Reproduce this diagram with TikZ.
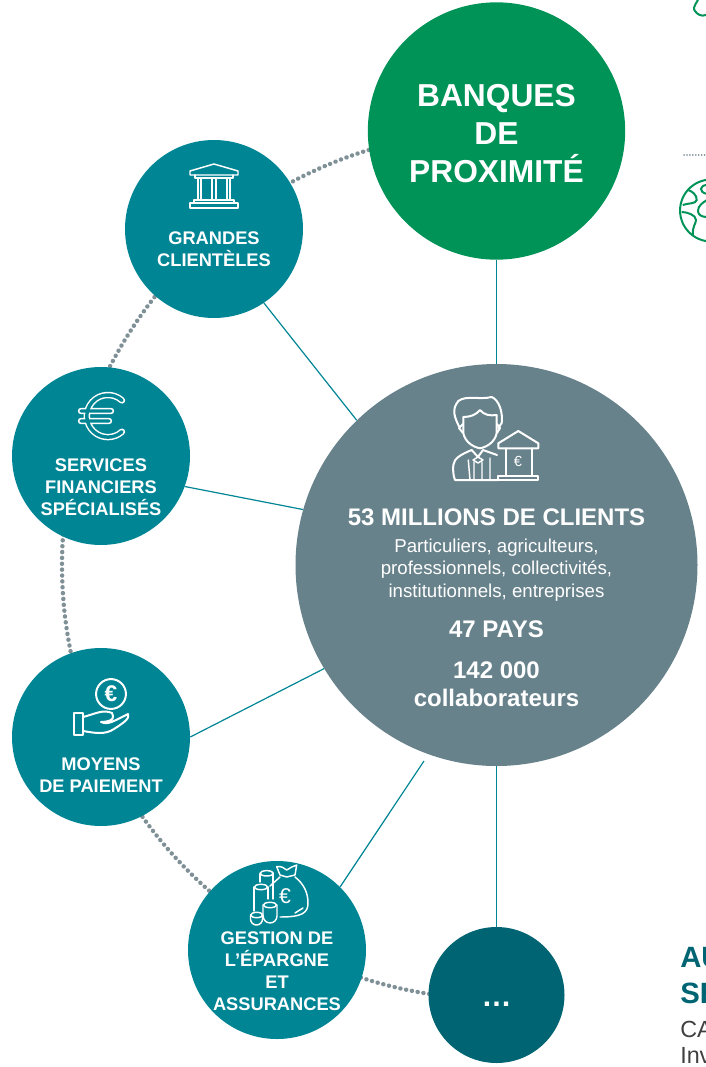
\documentclass[tikz,border=0pt]{standalone}
\usepackage{fontspec}
\usepackage{xcolor}
\setmainfont{Liberation Sans}
\definecolor{tealbank}{HTML}{008595}
\definecolor{greenbank}{HTML}{009357}
\definecolor{greyclient}{HTML}{68828B}
\definecolor{darkteal}{HTML}{006472}
\definecolor{greydots}{HTML}{7F9097}
\tikzset{
	bubble/.style={circle,inner sep=0pt,fill=tealbank,minimum size=133.5pt},
	label/.style={align=center,text=white,font=\fontsize{13.7}{16.5}\selectfont\bfseries},
	link/.style={draw=tealbank,line width=0.9pt},
	icon/.style={draw=white,line width=1.5pt,line join=round,line cap=round},
	iconthin/.style={icon,line width=1.1pt},
	globe/.style={greenbank,line width=1.5pt},
	cuttext/.style={anchor=base west,inner sep=0pt}
}
\begin{document}
\begin{tikzpicture}[x=0.75pt,y=-0.75pt]
	\useasboundingbox (0,0) rectangle (706,1067);
	\clip (0,0) rectangle (706,1067);
	% dotted ring behind the bubbles
	\draw[greydots,line width=3.3pt,line cap=round,dash pattern=on 0.1pt off 4.3pt] (496,131) arc[start angle=90,end angle=270,radius=325.5pt];
	% bubbles
	\node[bubble,fill=greenbank,minimum size=193pt] (proximite) at (496.5,131) {};
	\node[bubble] (grandes) at (214,229) {};
	\node[bubble] (services) at (101,456) {};
	\node[bubble] (moyens) at (101,737) {};
	\node[bubble] (gestion) at (277,950) {};
	\node[bubble,fill=darkteal,minimum size=102pt] (autres) at (496.5,995) {};
	\node[bubble,fill=greyclient,minimum size=301.5pt] (clients) at (496.5,565) {};
	\coordinate (gestionend) at (424,761);
	% links
	\draw[link] (proximite) -- (clients);
	\draw[link] (grandes.-56.5) -- (clients.134.8);
	\draw[link] (services.-20.6) -- (clients.164.4);
	\draw[link] (moyens.-0.6) -- (clients.211);
	\draw[link] (gestion.45) -- (gestionend);
	\draw[link] (clients) -- (autres);
	% labels
	\node[label,font=\fontsize{23.8}{28.5}\selectfont\bfseries] (proximitetxt) at (496.5,134) {BANQUES\\DE\\PROXIMITÉ};
	\node[label] (grandestxt) at (214,249) {GRANDES\\CLIENTÈLES};
	\node[label] (servicestxt) at (101,487) {SERVICES\\FINANCIERS\\SPÉCIALISÉS};
	\node[label] (moyenstxt) at (101,775) {MOYENS\\DE PAIEMENT};
	\node[label] (gestiontxt) at (277,971) {GESTION DE\\L’ÉPARGNE\\ET\\ASSURANCES};
	\node[label,anchor=base,inner sep=0pt,font=\fontsize{22.5}{24}\selectfont\bfseries] (autrestxt) at (496.5,1006) {…};
	\node[label,font=\fontsize{18}{21}\selectfont\bfseries] (clientstxt) at (496.5,517) {53 MILLIONS DE CLIENTS};
	\node[label,font=\fontsize{14}{16.9}\selectfont] (detailtxt) at (496.5,570) {Particuliers, agriculteurs,\\professionnels, collectivités,\\institutionnels, entreprises};
	\node[label,font=\fontsize{18}{21}\selectfont\bfseries] (paystxt) at (496.5,629) {47 PAYS};
	\node[label,font=\fontsize{18}{21}\selectfont\bfseries] (collabtxt) at (496.5,684) {142 000\\collaborateurs};
	% bank
	\draw[iconthin] (190,171) -- (214,164) -- (238,171) -- (238,175) -- (190,175) -- cycle;
	\draw[iconthin] (195,175) -- (195,178) -- (233,178) -- (233,175);
	\draw[iconthin] (198,178) -- (198,200) (201,178) -- (201,200) (212,178) -- (212,200) (216,178) -- (216,200) (227,178) -- (227,200) (230,178) -- (230,200);
	\draw[iconthin] (194,203) -- (194,200) -- (234,200) -- (234,203);
	\draw[iconthin] (190,203) rectangle (238,208);
	% euro
	\draw[white,line width=1.1pt,double=tealbank,double distance=2.6pt,line cap=round] (122,400.4) arc[start angle=48,end angle=312,radius=15.8pt] (81,411) -- (111,411) (81,421) -- (109,421);
	% hand and coin
	\draw[icon] (111,694) circle (11.2pt);
	\node[label,font=\fontsize{17}{17}\selectfont\bfseries] (coin) at (111,694) {€};
	\draw[icon] (74,713) rectangle (83,735);
	\draw[icon] (83,717) .. controls (95,714) and (103,709) .. (112,713) -- (113,716) .. controls (114,720) and (108,722) .. (101,722) .. controls (108,725) and (112,722) .. (128,714) .. controls (130,718) and (125,722) .. (114,729) .. controls (105,735) and (95,733) .. (83,731);
	% bag and coins
	\draw[iconthin] (266.7,873.3) ellipse (5pt and 2pt);
	\draw[iconthin] (260,874) -- (260,882) (273,874) -- (273,899);
	\draw[iconthin] (261,887) ellipse (5pt and 2pt);
	\draw[iconthin] (254,887) -- (254,911) (268,887) -- (268,899);
	\draw[iconthin] (270,905) ellipse (5pt and 2pt);
	\draw[iconthin] (263,905) -- (263,916) (277,905) -- (277,916) arc[start angle=0,end angle=-180,radius=5.2pt];
	\draw[iconthin] (256.7,915) ellipse (4.5pt and 2pt);
	\draw[iconthin] (250.5,915) -- (250.5,919) arc[start angle=180,end angle=360,radius=4.5pt] -- (263,915);
	\draw[iconthin] (276.7,866.7) .. controls (282,866) and (284,868) .. (286.7,870) .. controls (290,868) and (293,866) .. (296.7,865) -- (295,875) -- (286.7,877) -- (280,875) -- cycle;
	\draw[iconthin] (295,877) .. controls (304,884) and (308,893) .. (308,903) .. controls (308,913) and (302,917) .. (280,917);
	\draw[iconthin] (280,877) -- (270,886);
	\draw[iconthin] (295,913) -- (303,908);
	\node[label,font=\fontsize{16}{16}\selectfont] (bagsign) at (285,896) {€};
	% client and bank
	\draw[icon] (459.3,427) .. controls (455,418) and (451,410) .. (458.3,401) .. controls (466,395) and (480,400) .. (491.7,397) .. controls (499,400) and (503,412) .. (501.7,423) -- (498.3,428);
	\draw[icon] (463.3,417) -- (463.3,433) .. controls (465,442) and (473,447) .. (480,448.3) .. controls (487,447) and (495,442) .. (496.7,433) -- (496.7,415);
	\draw[icon] (463.3,417) .. controls (470,417) and (476,415) .. (480,410) .. controls (484,415) and (490,416) .. (496.7,415);
	\draw[icon] (463,424) -- (459,428) -- (463,433) (497,424) -- (500,428) -- (497,433);
	\draw[icon] (455,480) -- (498,480) (455,480) .. controls (453,475) and (453,470) .. (453.3,465) .. controls (454,458) and (462,454) .. (471.7,450) -- (478,457) -- (483,450) -- (497,455);
	\draw[iconthin] (468.3,460) -- (470,480) (474,462) -- (474,480) (482,462) -- (482,480) (490,458) -- (490,480);
	\draw[iconthin] (478,457) -- (473,460) -- (478,463) -- (483,460) -- cycle;
	\draw[icon] (498.3,443.3) -- (518.3,431) -- (538.3,443.3) -- (538.3,448.3) -- (498.3,448.3) -- cycle;
	\draw[icon] (506,448.3) -- (506,476) (531.7,448.3) -- (531.7,476);
	\draw[icon] (498.3,476) rectangle (538.3,480);
	\node[label,font=\fontsize{11}{11}\selectfont] (banksign) at (518,461) {€};
	% cut off at the right edge
	\draw[greydots,line width=1.2pt,line cap=round,dash pattern=on 0.1pt off 2.1pt] (684,155) -- (706,155);
	\draw[globe] (698,0) .. controls (694,6) and (693,9) .. (695,11) .. controls (697,14) and (701,17) .. (706,15);
	\draw[globe] (711,210.5) circle (23.2pt);
	\draw[globe] (688,190) .. controls (692,191) and (697,195) .. (696.7,200) .. controls (696,204) and (688,203) .. (682.7,205);
	\draw[globe] (707,185) .. controls (700,185) and (698,192) .. (707,194);
	\draw[globe] (707,200) .. controls (702,203) and (698,206) .. (698,211) .. controls (698,215) and (702,217) .. (707,217);
	\draw[globe] (681.7,212) .. controls (687,212) and (696,215) .. (696,220) .. controls (696,224) and (692,226) .. (693,236);
	\node[cuttext,text=darkteal,font=\fontsize{22}{22}\selectfont\bfseries] (autxt) at (680,967) {AU};
	\node[cuttext,text=darkteal,font=\fontsize{22}{22}\selectfont\bfseries] (setxt) at (680,1003) {SE};
	\node[cuttext,text=black!75,font=\fontsize{17.5}{17.5}\selectfont] (catxt) at (680,1037) {CA};
	\node[cuttext,text=black!75,font=\fontsize{17.5}{17.5}\selectfont] (invtxt) at (680,1063) {Inv};
\end{tikzpicture}
\end{document}
